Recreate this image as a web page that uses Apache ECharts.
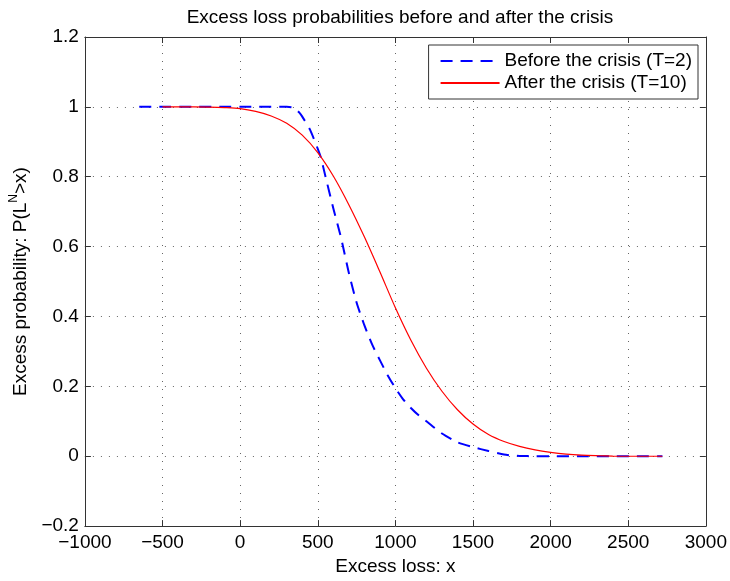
<!DOCTYPE html>
<html>
<head>
<meta charset="utf-8">
<script src="https://cdn.jsdelivr.net/npm/echarts@6/dist/echarts.min.js"></script>
<style>
html,body{margin:0;padding:0;background:#fff;}
#chart{width:730px;height:581px;}
</style>
</head>
<body>
<div id="chart"></div>
<script>
var titleText = 'Excess loss probabilities before and after the crisis';
var xAxisName = 'Excess loss: x';
var seriesNames = ['Before the crisis (T=2)', 'After the crisis (T=10)'];

var blueX = [-650,-500,-300,-100,0,100,200,300,340,360,380,400,450,500,520,550,600,650,700,750,800,850,900,950,1000,1050,1100,1150,1200,1300,1400,1500,1600,1700,1750,1800,1900,2000,2200,2400,2600,2720];
var blueY = [1,1,1,1,1,1,1,1,0.998,0.993,0.984,0.972,0.935,0.88,0.855,0.80,0.71,0.625,0.525,0.44,0.375,0.32,0.275,0.232,0.195,0.163,0.138,0.117,0.10,0.065,0.04,0.026,0.015,0.005,0.002,0.001,0,0,0,0,0,0];

var redX = [-500,-400,-300,-200,-100,0,100,200,300,400,500,600,700,800,900,1000,1100,1200,1300,1400,1500,1600,1700,1800,1900,2000,2100,2200,2300,2400,2500,2600,2720];
var redY = [1,1,1,0.9995,0.998,0.995,0.987,0.974,0.953,0.919,0.869,0.802,0.72,0.628,0.528,0.425,0.332,0.252,0.186,0.133,0.092,0.062,0.042,0.028,0.018,0.011,0.006,0.003,0.0015,0.0005,0,0,0];

function pairs(xs, ys){ return xs.map(function(x,i){ return [x, ys[i]]; }); }
function fmt(v){ var s = String(Math.round(v*10)/10); return s.replace('-', '\u2212'); }

var FONT = '"Liberation Sans", Arial, Helvetica, sans-serif';
var FS = 19;
var AX = '#333';
var grid = {left:83, right:23, top:37, bottom:52};

var chart = echarts.init(document.getElementById('chart'), null, {renderer:'canvas'});
chart.setOption({
  animation:false,
  backgroundColor:'#fff',
  textStyle:{fontFamily:FONT},
  title:{text:titleText, left:395, top:3, textAlign:'center',
    textStyle:{fontFamily:FONT, fontSize:FS, fontWeight:'normal', color:'#000'}},
  grid:grid,
  legend:{
    data:seriesNames, orient:'vertical', right:32, top:45,
    backgroundColor:'#fff', borderColor:AX, borderWidth:1, borderRadius:0,
    padding:[6,6,6,11], itemWidth:59, itemHeight:14, itemGap:2,
    itemStyle:{opacity:0},
    textStyle:{fontFamily:FONT, fontSize:FS, color:'#000', lineHeight:20},
    selectedMode:false
  },
  xAxis:[{
    type:'value', min:-1000, max:3000, interval:500, position:'bottom',
    name:xAxisName, nameLocation:'middle', nameGap:29,
    nameTextStyle:{fontFamily:FONT, fontSize:FS, color:'#000'},
    axisLine:{onZero:false, lineStyle:{color:AX, width:1}},
    axisTick:{inside:true, length:6, lineStyle:{color:AX}},
    axisLabel:{fontFamily:FONT, fontSize:FS, color:'#000', margin:7, formatter:function(v){return fmt(v);} },
    splitLine:{show:true, lineStyle:{color:'#666', width:1, type:[1,7]}}
  },{
    type:'value', min:-1000, max:3000, interval:500, position:'top',
    axisLine:{onZero:false, lineStyle:{color:AX, width:1}},
    axisTick:{inside:true, length:6, lineStyle:{color:AX}},
    axisLabel:{show:false}, splitLine:{show:false}
  }],
  yAxis:[{
    type:'value', min:-0.2, max:1.2, interval:0.2, position:'left',
    name:'{b|Excess probability: P(L}{sup|N}{b|>x)}', nameLocation:'middle', nameGap:50, nameRotate:90,
    nameTextStyle:{fontFamily:FONT, fontSize:FS, color:'#000',
      rich:{b:{fontFamily:FONT, fontSize:FS, color:'#000', lineHeight:26},
            sup:{fontFamily:FONT, fontSize:12, color:'#000', verticalAlign:'top', lineHeight:13}}},
    axisLine:{onZero:false, lineStyle:{color:AX, width:1}},
    axisTick:{inside:true, length:6, lineStyle:{color:AX}},
    axisLabel:{fontFamily:FONT, fontSize:FS, color:'#000', margin:6, formatter:function(v){return fmt(v);} },
    splitLine:{show:true, lineStyle:{color:'#666', width:1, type:[1,7]}}
  },{
    type:'value', min:-0.2, max:1.2, interval:0.2, position:'right',
    axisLine:{onZero:false, lineStyle:{color:AX, width:1}},
    axisTick:{inside:true, length:6, lineStyle:{color:AX}},
    axisLabel:{show:false}, splitLine:{show:false}
  }],
  series:[{
    name:seriesNames[0], type:'line', xAxisIndex:0, yAxisIndex:0,
    data:pairs(blueX, blueY), symbol:'none', smooth:0.2,
    lineStyle:{color:'#0000ff', width:2, type:[12,8]}, itemStyle:{color:'#0000ff', opacity:0}
  },{
    name:seriesNames[1], type:'line', xAxisIndex:0, yAxisIndex:0,
    data:pairs(redX, redY), symbol:'none', smooth:0.3,
    lineStyle:{color:'#ff0000', width:1.2, type:'solid'}, itemStyle:{color:'#ff0000', opacity:0}
  }]
});
</script>
</body>
</html>
